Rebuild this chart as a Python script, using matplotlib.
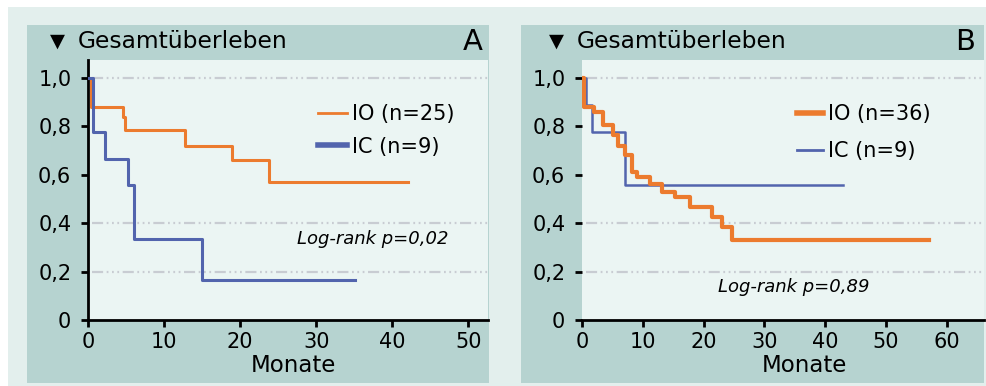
import matplotlib
matplotlib.use("Agg")
import matplotlib.pyplot as plt
from matplotlib.patches import Rectangle

# ---------------- data ----------------
a_io_t = [0, 0.4, 4.6, 4.8, 12.7, 18.9, 23.8, 42.1]
a_io_s = [1.0, 0.88, 0.84, 0.785, 0.72, 0.66, 0.57, 0.57]
a_ic_t = [0, 0.6, 2.3, 5.2, 6.1, 15.0, 35.1]
a_ic_s = [1.0, 0.778, 0.667, 0.556, 0.333, 0.167, 0.167]

b_io_t = [0, 0.3, 1.9, 3.5, 5.1, 6.0, 7.1, 8.2, 9.0, 11.2, 13.1, 15.3, 17.8, 21.3, 23.0, 24.7, 57.1]
b_io_s = [1.0, 0.88, 0.86, 0.806, 0.764, 0.72, 0.68, 0.61, 0.59, 0.56, 0.53, 0.507, 0.468, 0.427, 0.386, 0.33, 0.33]
b_ic_t = [0, 0.6, 1.6, 7.0, 42.9]
b_ic_s = [1.0, 0.889, 0.778, 0.556, 0.556]

yticks = [0, 0.2, 0.4, 0.6, 0.8, 1.0]
ytick_labels = ["0", "0,2", "0,4", "0,6", "0,8", "1,0"]
a_xticks = [0, 10, 20, 30, 40, 50]
b_xticks = [0, 10, 20, 30, 40, 50, 60]
grid_levels = [0.2, 0.4, 1.0]

title = "Gesamtüberleben"
xlabel = "Monate"
a_labels = ["IO (n=25)", "IC (n=9)"]
b_labels = ["IO (n=36)", "IC (n=9)"]
a_p = "Log-rank p=0,02"
b_p = "Log-rank p=0,89"

# ---------------- style ----------------
W, H = 987, 386
ORANGE = "#ec7b2e"
BLUE = "#5264ad"
OUTER = "#e3efed"
BOX = "#b6d3d0"
PLOT = "#ebf5f3"
GRID = "#c8ccd2"
FONT = ["DejaVu Sans"]
plt.rcParams["font.family"] = FONT

fig = plt.figure(figsize=(W / 100, H / 100), dpi=100)
fig.patch.set_facecolor("white")


def frect(l, t, r, b):
    return [l / W, 1 - b / H, (r - l) / W, (b - t) / H]


def add_bg(l, t, r, b, color, z=0):
    x, y, w, h = frect(l, t, r, b)
    fig.patches.append(Rectangle((x, y), w, h, transform=fig.transFigure,
                                 facecolor=color, edgecolor="none", zorder=z))


add_bg(8, 7, 987, 386, OUTER, 0)
add_bg(27, 25, 489, 383, BOX, 1)
add_bg(521, 25, 984, 383, BOX, 1)


def ftext(x, y, s, **kw):
    fig.text(x / W, 1 - y / H, s, **kw)


def setup(ax, xmax, xticks, spine_left):
    ax.set_facecolor(PLOT)
    ax.set_xlim(0, xmax)
    ax.set_ylim(0, 1.074)
    for s in ["top", "right"]:
        ax.spines[s].set_visible(False)
    ax.spines["left"].set_visible(spine_left)
    ax.spines["left"].set_linewidth(2)
    ax.spines["bottom"].set_linewidth(2)
    ax.set_yticks(yticks)
    ax.set_yticklabels(ytick_labels)
    ax.set_xticks(xticks)
    ax.tick_params(axis="both", direction="out", length=5, width=2,
                   labelsize=15, colors="black")
    ax.tick_params(axis="y", pad=7)
    ax.tick_params(axis="x", pad=4)
    for g in grid_levels:
        ax.axhline(g, xmin=0.01, color=GRID, lw=1.6,
                   linestyle=(0, (5, 1.6, 0.8, 1.6, 0.8, 1.6, 0.8, 1.6)), zorder=1)


# ---------------- panel A ----------------
axA = fig.add_axes(frect(88, 60, 488, 320))
axA.set_zorder(2)
setup(axA, 52.6, a_xticks, True)
lA1, = axA.step(a_io_t, a_io_s, where="post", color=ORANGE, lw=2.2, zorder=3)
lA2, = axA.step(a_ic_t, a_ic_s, where="post", color=BLUE, lw=2.2, zorder=3)
legA = axA.legend([lA1, lA2], a_labels, loc="upper left",
                  bbox_to_anchor=((318 - 88) / 400, (320 - 104) / 260),
                  frameon=False, fontsize=15, handlelength=1.4,
                  handletextpad=0.25, labelspacing=0.6, borderaxespad=0,
                  borderpad=0)
legA.get_lines()[0].set_linewidth(2)
legA.get_lines()[1].set_linewidth(4)

# ---------------- panel B ----------------
axB = fig.add_axes(frect(582, 60, 984, 320))
axB.set_zorder(2)
setup(axB, 66.1, b_xticks, False)
lB1, = axB.step(b_io_t, b_io_s, where="post", color=ORANGE, lw=3, zorder=4)
lB2, = axB.step(b_ic_t, b_ic_s, where="post", color=BLUE, lw=1.8, zorder=3)
legB = axB.legend([lB1, lB2], b_labels, loc="upper left",
                  bbox_to_anchor=((797 - 582) / 402, (320 - 104) / 260),
                  frameon=False, fontsize=15, handlelength=1.25,
                  handletextpad=0.25, labelspacing=0.82, borderaxespad=0,
                  borderpad=0)
legB.get_lines()[0].set_linewidth(4)
legB.get_lines()[1].set_linewidth(2)

# ---------------- texts ----------------
for x0, letter, lx in [(50, "A", 483), (549, "B", 975)]:
    ftext(x0, 41, "▼", fontsize=14, va="center", ha="left")
    ftext(x0 + 28, 42, title, fontsize=16.8, va="center", ha="left")
    ftext(lx, 42, letter, fontsize=21, va="center", ha="right")

ftext(293, 365, xlabel, fontsize=16.5, va="center", ha="center")
ftext(804, 365, xlabel, fontsize=16.5, va="center", ha="center")
ftext(297, 239, a_p, fontsize=13, style="italic", va="center", ha="left")
ftext(718, 287, b_p, fontsize=13, style="italic", va="center", ha="left")

fig.savefig("out.png", dpi=100, facecolor=fig.get_facecolor())
